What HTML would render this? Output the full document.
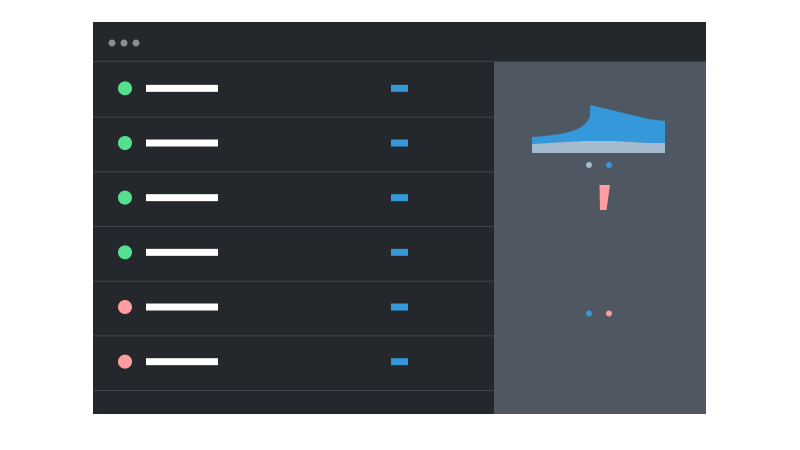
<!DOCTYPE html>
<html><head><meta charset="utf-8">
<style>
html,body{margin:0;padding:0;background:#fff;width:800px;height:450px;overflow:hidden;font-family:"Liberation Sans",sans-serif}
</style></head>
<body>
<svg id="svg" width="800" height="450" viewBox="0 0 800 450" xmlns="http://www.w3.org/2000/svg">
  <rect x="93" y="22" width="613" height="392" fill="#24272b"/>
  <rect x="93" y="22" width="613" height="39" fill="#24272b"/>
  <line x1="93" y1="61.5" x2="706" y2="61.5" stroke="#3a4047"/>
  <circle cx="112" cy="43" r="3.5" fill="#8a8d91"/>
  <circle cx="124" cy="43" r="3.5" fill="#8a8d91"/>
  <circle cx="136" cy="43" r="3.5" fill="#8a8d91"/>
  <rect x="494" y="62" width="212" height="352" fill="#4f5862"/>
  <g id="rows"></g>
  <g id="chart"></g>
  <g id="bar"></g>
</svg>
<script>
const rowStatus = ['ok','ok','ok','ok','bad','bad'];
const timeSteps = [0,0.5,1,1.5,2,2.5,2.75,3,3.25,3.49,3.5,4,5,6,7,8];
const graySeries = [9,9.5,10,10.5,11,11.5,11.5,12,12,12,12,12,12,11,10,10];
const blueSeries = [7,7,7.5,8,9,11,12.5,14.5,18,24,36,34,30,27,24,22];
const barTop = [28];
const barBottom = [3];

const NS='http://www.w3.org/2000/svg';
function mk(tag,attrs,parent){const e=document.createElementNS(NS,tag);for(const k in attrs)e.setAttribute(k,attrs[k]);parent.appendChild(e);return e;}

const rows=document.getElementById('rows');
const rowH=54.67, rowY0=62;
rowStatus.forEach((s,i)=>{
  const y=rowY0+i*rowH, cy=y+rowH/2-1;
  const g=mk('g',{},rows);
  
  
  const c=mk('circle',{cx:125,cy:cy,r:7,fill:s==='ok'?'#55e08f':'#ff9e9e'},g);
  
  
  const t=mk('rect',{x:146,y:cy-3.5,width:72,height:7,fill:'#ffffff'},g);
  
  
  const b=mk('rect',{x:391,y:cy-3.5,width:17,height:7,fill:'#3498db'},g);
  
  
  const l=mk('line',{x1:93,x2:494,y1:y+rowH+0.5,y2:y+rowH+0.5,stroke:'#3f454c'},g);
  
  
});

const chart=document.getElementById('chart');
const xs=t=>532+t*(133/8);
const ys=v=>153-v;
let grayTop=timeSteps.map((t,i)=>[xs(t),ys(graySeries[i])]);
let blueTop=timeSteps.map((t,i)=>[xs(t),ys(graySeries[i]+blueSeries[i])]);
function poly(top,bottom){return 'M'+top.map(p=>p.join(',')).join('L')+'L'+bottom.slice().reverse().map(p=>p.join(',')).join('L')+'Z';}
const base=timeSteps.map(t=>[xs(t),ys(0)]);
const pb=mk('path',{d:poly(blueTop,grayTop),fill:'#3498db'},chart);


const pg=mk('path',{d:poly(grayTop,base),fill:'#a4bacd'},chart);


const l1=mk('circle',{cx:589,cy:165,r:3,fill:'#a4bacd'},chart);


const l2=mk('circle',{cx:609,cy:165,r:3,fill:'#3498db'},chart);



const bar=document.getElementById('bar');
const by=v=>213-v;
const p=mk('path',{d:`M599.5,${by(barTop[0])}L610,${by(barTop[0])}L606.5,${by(barBottom[0])}L600,${by(barBottom[0])}Z`,fill:'#ff9e9e'},bar);


const l3=mk('circle',{cx:589,cy:313.5,r:3,fill:'#3498db'},bar);


const l4=mk('circle',{cx:609,cy:313.5,r:3,fill:'#ff9e9e'},bar);


</script>
</body></html>
